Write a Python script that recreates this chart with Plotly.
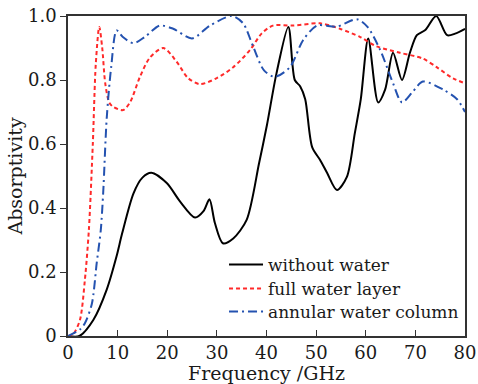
import plotly.graph_objects as go

# without water
x_black = [0, 2.3, 5.1, 7.8, 9.8, 10.9, 13.2, 15.0, 16.8, 19.9, 22.6, 25.6, 27.3, 28.5, 29.6, 31.2,
           33.3, 36.0, 38.5, 40.1, 42.0, 44.4, 45.7, 46.8, 47.8, 49.2, 50.8, 52.2, 54.2, 56.2,
           57.8, 59.0, 60.5, 62.5, 63.9, 65.5, 67.3, 68.9, 70.3, 72.0, 74.2, 76.4, 78.0, 80.0]
y_black = [0, 0, 0.05, 0.145, 0.25, 0.32, 0.446, 0.495, 0.51, 0.478, 0.42, 0.37, 0.39, 0.427, 0.353, 0.29,
           0.305, 0.363, 0.54, 0.66, 0.82, 0.966, 0.80, 0.78, 0.74, 0.59, 0.55, 0.51, 0.456, 0.497,
           0.634, 0.74, 0.93, 0.73, 0.77, 0.885, 0.80, 0.885, 0.94, 0.956, 1.0, 0.94, 0.945, 0.96]

# full water layer
x_red = [0, 1.0, 2.4, 3.4, 4.2, 5.0, 5.6, 6.3, 6.9, 7.5, 8.3, 9.1, 11.1, 12.5, 14.5, 16.5, 19.2,
         21.9, 24.2, 26.6, 30.0, 33.3, 36.7, 39.0, 41.3, 45.3, 50.8, 54.8, 58.8, 62.2, 66.9,
         71.5, 74.3, 77.6, 80.0]
y_red = [0, 0.005, 0.05, 0.175, 0.33, 0.6, 0.85, 0.966, 0.9, 0.79, 0.73, 0.716, 0.706, 0.73, 0.81, 0.87, 0.9,
         0.857, 0.806, 0.787, 0.806, 0.84, 0.894, 0.945, 0.97, 0.97, 0.977, 0.96, 0.935, 0.905, 0.885,
         0.867, 0.84, 0.805, 0.79]

# annular water column
x_blue = [0, 2.4, 3.4, 4.8, 5.8, 6.6, 7.1, 7.8, 8.7, 9.8, 11.0, 13.2, 15.5, 18.5, 21.2, 25.0, 28.6,
          33.0, 35.3, 37.3, 39.5, 41.7, 44.7, 47.4, 50.2, 54.2, 58.2, 60.3, 62.9, 65.5, 67.3,
          69.5, 71.5, 75.6, 78.4, 80.0]
y_blue = [0, 0.02, 0.04, 0.1, 0.23, 0.33, 0.45, 0.68, 0.84, 0.955, 0.935, 0.915, 0.935, 0.97, 0.96, 0.93, 0.97,
          1.0, 0.977, 0.905, 0.83, 0.81, 0.84, 0.925, 0.97, 0.967, 0.99, 0.967, 0.894, 0.79, 0.73,
          0.764, 0.795, 0.77, 0.74, 0.70]

x_ticks = [0, 10, 20, 30, 40, 50, 60, 70, 80]
y_ticks = [0, 0.2, 0.4, 0.6, 0.8, 1.0]
y_ticktext = ["0", "0.2", "0.4", "0.6", "0.8", "1.0"]

FONT = "DejaVu Serif"
TXT = "#1a1a1a"

fig = go.Figure()
fig.add_trace(go.Scatter(x=x_black, y=y_black, mode="lines", name="without water", legend="legend",
                         line=dict(color="black", width=2, shape="spline", smoothing=0.8)))
fig.add_trace(go.Scatter(x=x_red, y=y_red, mode="lines", name="full water layer", legend="legend2",
                         line=dict(color="#ff2a2a", width=2, dash="4px,3px", shape="spline", smoothing=0.8)))
fig.add_trace(go.Scatter(x=x_blue, y=y_blue, mode="lines", name="annular water column", legend="legend3",
                         line=dict(color="#2452b0", width=2, dash="9px,4px,2px,4px", shape="spline", smoothing=0.8)))

leg_common = dict(x=0.393, xanchor="left", yanchor="middle", bgcolor="rgba(0,0,0,0)",
                  font=dict(family=FONT, size=17, color=TXT), itemwidth=34)
fig.update_layout(
    width=478, height=384,
    margin=dict(l=68, r=13, t=16, b=48, autoexpand=False),
    paper_bgcolor="white", plot_bgcolor="white",
    font=dict(family=FONT, size=18, color=TXT),
    showlegend=True,
    legend=dict(y=0.222, **leg_common),
    legend2=dict(y=0.147, **leg_common),
    legend3=dict(y=0.075, **leg_common),
)
fig.update_xaxes(range=[0, 80], tickvals=x_ticks, ticks="inside", ticklen=6, tickcolor="#333",
                 showline=True, linecolor="#333", linewidth=1.5, mirror=True, showgrid=False,
                 zeroline=False, automargin=False, tickfont=dict(family=FONT, size=18, color=TXT),
                 title=dict(text="Frequency /GHz", font=dict(family=FONT, size=19, color=TXT), standoff=6))
fig.update_yaxes(range=[0, 1.0], tickvals=y_ticks, ticktext=y_ticktext, ticks="outside", ticklen=6,
                 tickcolor="#333", showline=True, linecolor="#333", linewidth=1.5, mirror=True,
                 showgrid=False, zeroline=False, automargin=False,
                 tickfont=dict(family=FONT, size=18, color=TXT),
                 title=dict(text="Absorptivity", font=dict(family=FONT, size=19, color=TXT), standoff=0))

fig.write_html("out.html")
